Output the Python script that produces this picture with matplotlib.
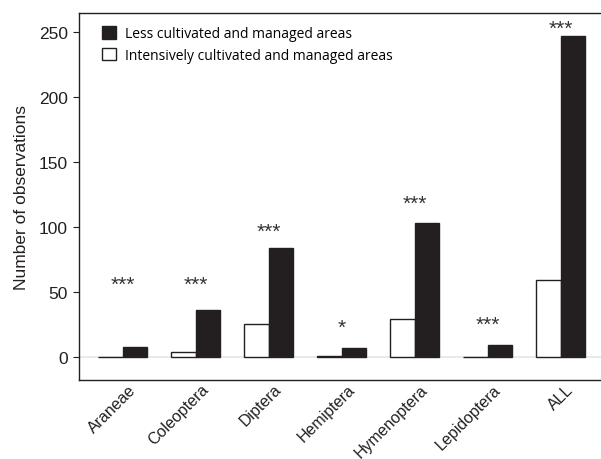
import matplotlib
matplotlib.use("Agg")
from matplotlib import pyplot as plt
from matplotlib.patches import Patch
import numpy as np

categories = ["Araneae", "Coleoptera", "Diptera", "Hemiptera", "Hymenoptera", "Lepidoptera", "ALL"]
less_managed = [8, 36, 84, 7, 103, 9, 247]
intensive = [0, 4, 25, 1, 29, 0, 59]
stars = ["***", "***", "***", "*", "***", "***", "***"]
star_heights = [56, 56, 97, 23, 118, 25, 253]

dark = "#231f20"
plt.rcParams['font.family'] = ['Liberation Sans', 'DejaVu Sans']

fig = plt.figure(figsize=(6.01, 4.6), dpi=100)
ax = fig.add_axes([79/601, 79/460, 1 - 79/601, (381-14)/460])

x = np.arange(len(categories))
w = 0.336
ax.axhline(0, color="#e6e6e6", lw=1.2, zorder=0)
ax.bar(x - w/2, intensive, w, color="white", edgecolor=dark, lw=1.0, zorder=2)
ax.bar(x + w/2, less_managed, w, color=dark, edgecolor=dark, lw=1.0, zorder=2)

for xi, s, h in zip(x, stars, star_heights):
    ax.text(xi, h, s, ha="center", va="center", fontsize=15, color="#333333")

ax.set_xlim(-0.6, 6.55)
ax.set_ylim(-17.7, 264.6)
ax.set_yticks([0, 50, 100, 150, 200, 250])
ax.tick_params(axis="y", labelsize=12.5, length=4, width=0.8, colors=dark, pad=4)
ax.set_xticks(x + 0.07)
ax.set_xticklabels(categories, rotation=45, ha="right", rotation_mode="anchor", fontsize=11.5, color=dark)
ax.tick_params(axis="x", length=0, pad=1)
ax.spines["right"].set_visible(False)
for s in ["left", "top", "bottom"]:
    ax.spines[s].set_color(dark)
    ax.spines[s].set_linewidth(1.0)
ax.set_ylabel("Number of observations", fontsize=12.5, color=dark, labelpad=7)

handles = [Patch(facecolor=dark, edgecolor=dark, label="Less cultivated and managed areas"),
           Patch(facecolor="white", edgecolor=dark, label="Intensively cultivated and managed areas")]
ax.legend(handles=handles, loc="upper left", frameon=False,
          prop={"family": ["Open Sans", "DejaVu Sans"], "size": 10},
          handlelength=1.0, handleheight=1.0, handletextpad=0.7, labelspacing=0.45,
          bbox_to_anchor=(0.025, 0.99), borderaxespad=0.3)

fig.savefig("out.png", dpi=100)
